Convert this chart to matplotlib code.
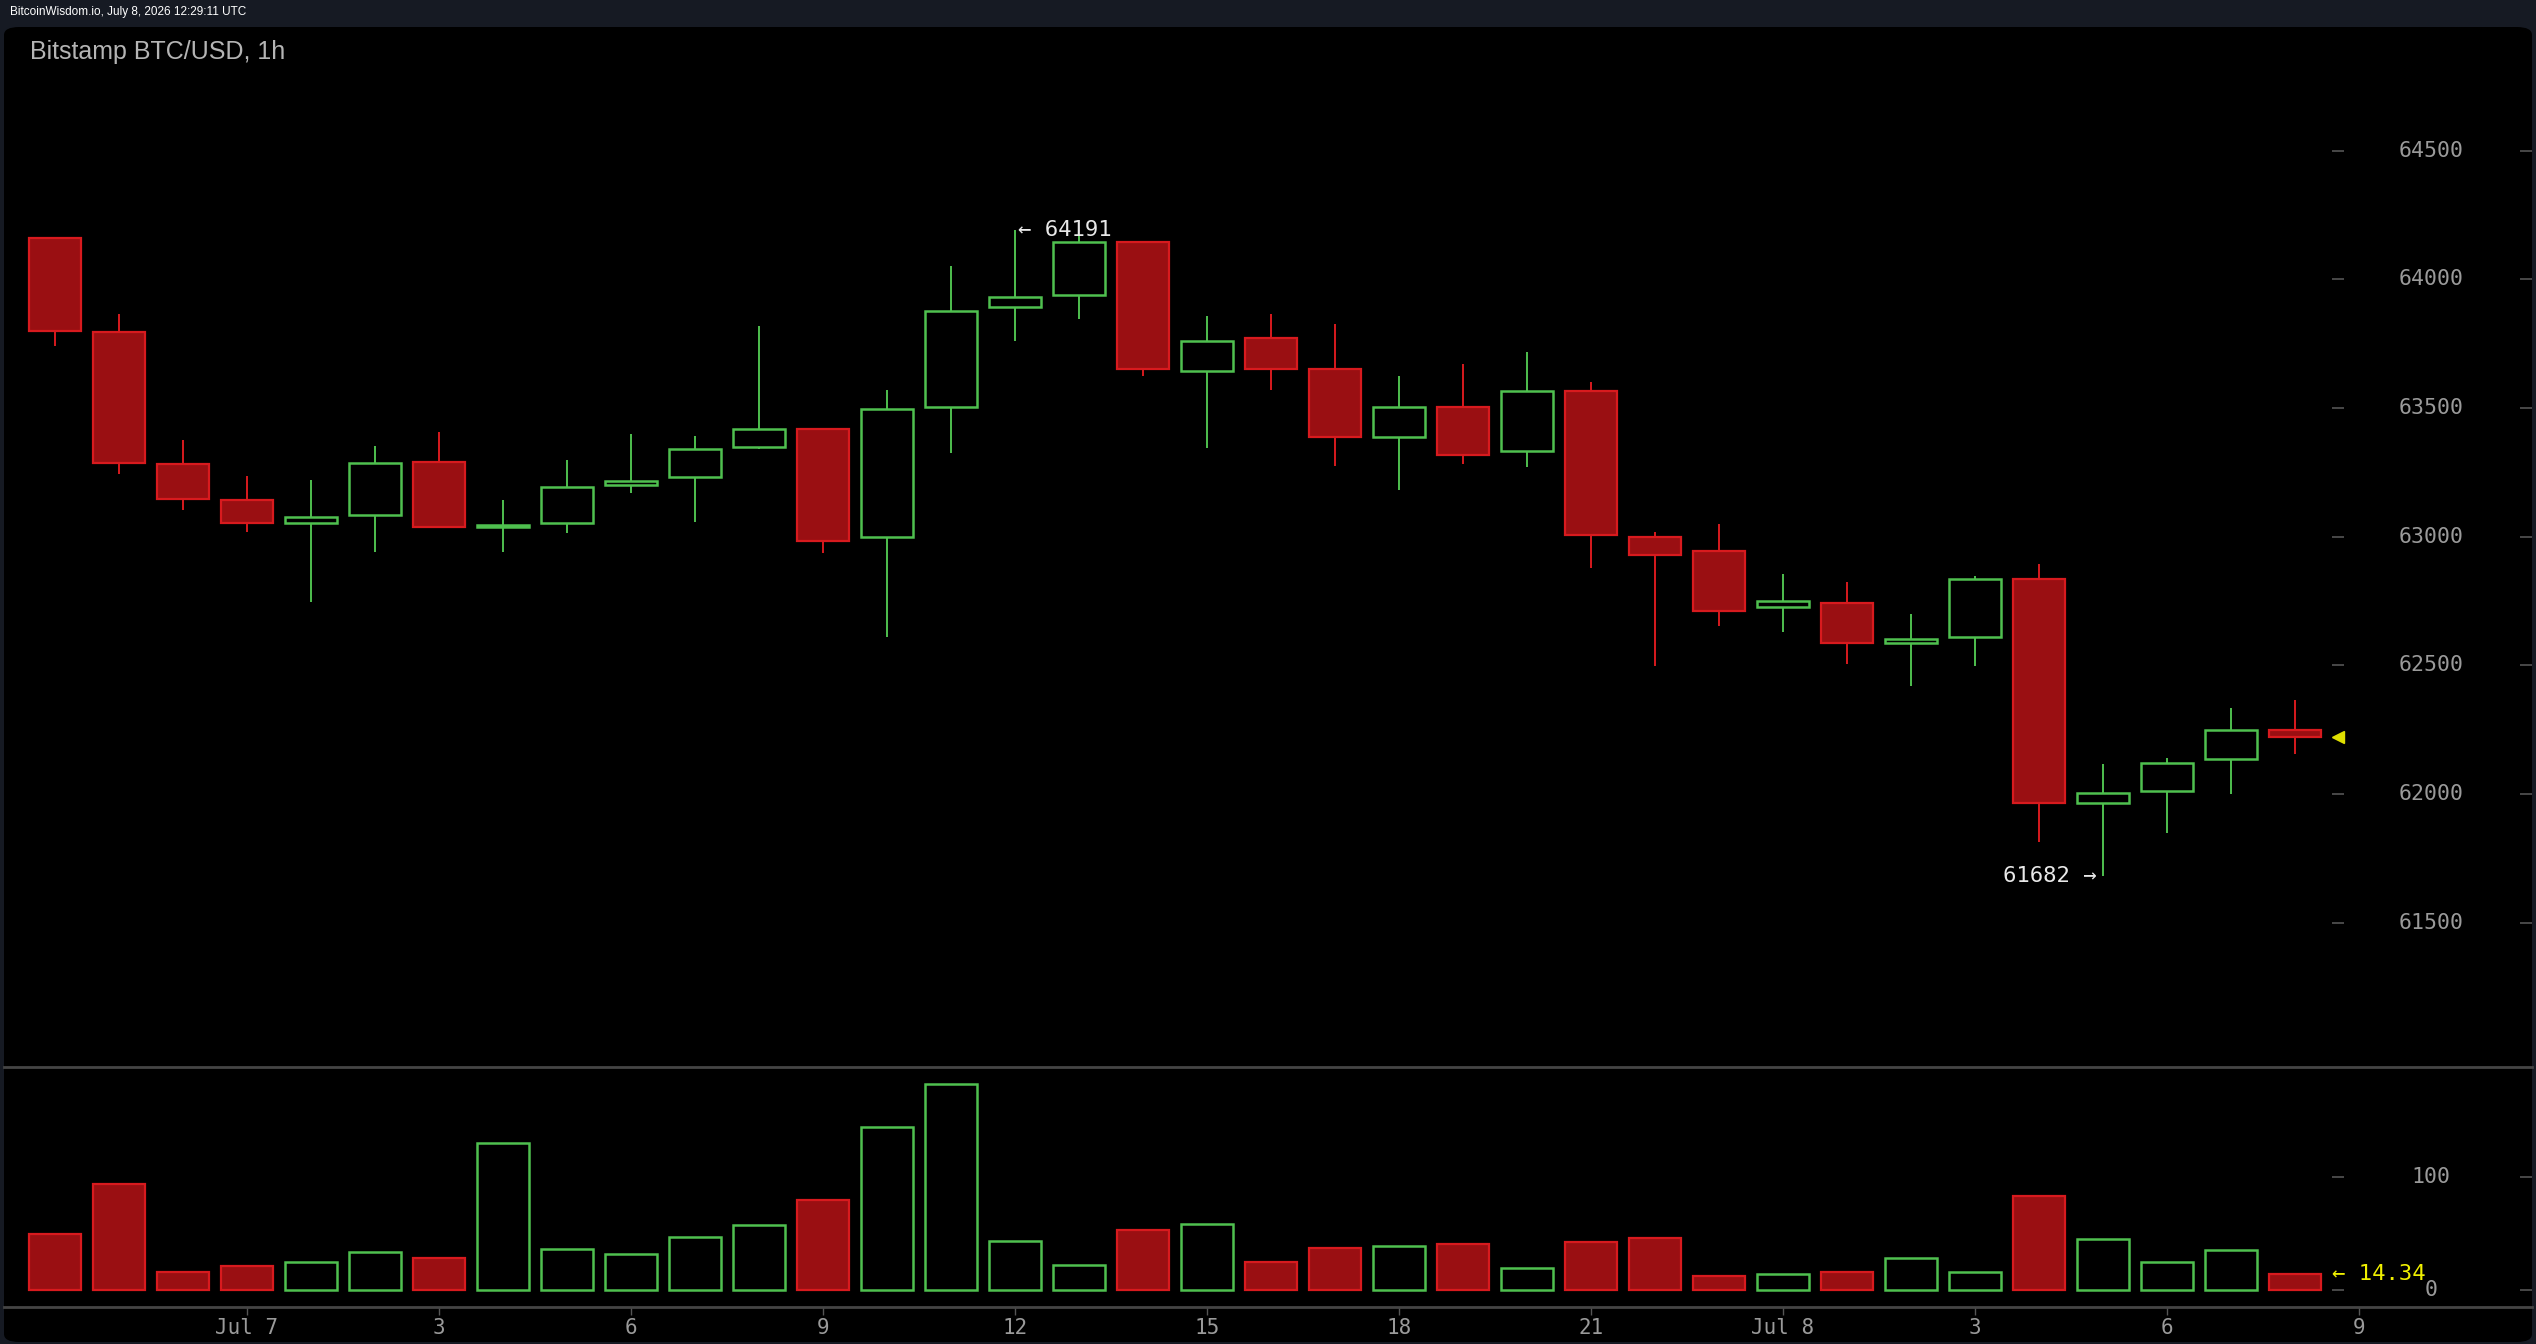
import matplotlib
matplotlib.use("Agg")
import matplotlib.pyplot as plt
from matplotlib.patches import FancyBboxPatch
from matplotlib.lines import Line2D

# ---------------------------------------------------------------------------
# Data (1h candles, Jul 6 21:00 -> Jul 8 08:00)
# ---------------------------------------------------------------------------
opens = [64159, 63794, 63281, 63141, 63053, 63084, 63289, 63038, 63054, 63200,
         63233, 63348, 63419, 62998, 63503, 63892, 63939, 64143, 63643, 63771,
         63653, 63387, 63505, 63332, 63567, 62999, 62945, 62725, 62743, 62585,
         62611, 62836, 61964, 62011, 62136, 62247]
highs = [64160, 63865, 63375, 63235, 63220, 63352, 63406, 63142, 63298, 63398,
         63391, 63818, 63419, 63569, 64051, 64191, 64172, 64143, 63857, 63864,
         63826, 63624, 63670, 63716, 63602, 63018, 63049, 62854, 62823, 62698,
         62846, 62893, 62115, 62138, 62333, 62365]
lows = [63742, 63243, 63103, 63019, 62747, 62941, 63036, 62941, 63012, 63168,
        63058, 63339, 62935, 62609, 63323, 63759, 63844, 63625, 63345, 63571,
        63275, 63181, 63283, 63269, 62879, 62498, 62654, 62630, 62506, 62420,
        62498, 61814, 61682, 61847, 62000, 62155]
closes = [63799, 63285, 63145, 63052, 63077, 63287, 63036, 63045, 63194, 63217,
          63341, 63419, 62983, 63497, 63878, 63932, 64143, 63650, 63761, 63651,
          63387, 63505, 63316, 63567, 63005, 62927, 62710, 62751, 62585, 62603,
          62836, 61964, 62005, 62121, 62247, 62221]
volumes = [49.1, 93.2, 15.9, 20.9, 24.4, 33.2, 28.0, 130.0, 36.5, 31.5,
           47.0, 57.6, 79.2, 144.1, 181.5, 43.5, 22.3, 52.7, 58.0, 24.4,
           37.1, 38.6, 40.6, 19.1, 42.1, 45.6, 12.1, 13.8, 15.9, 28.0,
           15.6, 83.0, 45.3, 24.4, 35.0, 14.34]

hour_ticks = [3, 6, 9, 12, 15, 18, 21, 24, 27, 30, 33, 36]
hour_labels = ["Jul 7", "3", "6", "9", "12", "15", "18", "21", "Jul 8", "3", "6", "9"]
price_ticks = [61500, 62000, 62500, 63000, 63500, 64000, 64500]
volume_ticks = [0, 100]

# ---------------------------------------------------------------------------
# Style
# ---------------------------------------------------------------------------
OUTER = "#161a23"
RED_FACE = "#9a0f12"
RED_EDGE = "#d81a1e"
GREEN = "#4fc04f"
AXIS_GREY = "#454545"
LABEL_GREY = "#9a9a9a"
MONO = "DejaVu Sans Mono"
SANS = "Liberation Sans"

W, H = 2536, 1344
fig = plt.figure(figsize=(W / 100, H / 100), dpi=100, facecolor=OUTER)

# black rounded panel
panel = FancyBboxPatch((4 / W, 2 / H), 2528 / W, 1315 / H,
                       boxstyle="round,pad=0,rounding_size=0.006",
                       transform=fig.transFigure, facecolor="black",
                       edgecolor="none", zorder=0)
fig.add_artist(panel)

fig.text(10 / W, 1 - 12 / H, "BitcoinWisdom.io, July 8, 2026 12:29:11 UTC",
         color="white", fontsize=8.5, family=SANS, va="center", ha="left")
fig.text(30 / W, 1 - 52 / H, "Bitstamp BTC/USD, 1h", color="#b4b4b4",
         fontsize=18, family=SANS, va="center", ha="left")

left, width = 4 / W, 2528 / W
ax = fig.add_axes([left, 1 - 1066.7 / H, width, (1066.7 - 25) / H])
axv = fig.add_axes([left, 1 - 1306.7 / H, width, 240 / H], sharex=ax)
for a in (ax, axv):
    a.set_facecolor("none")
    for s in a.spines.values():
        s.set_visible(False)
    a.set_yticks([])

x0 = -51 / 64
ax.set_xlim(x0, x0 + 2528 / 64)
ax.set_ylim(60940, 64988)
axv.set_ylim(-14.7, 197.1)

n = len(opens)
xs = list(range(n))
body_w = 0.82
up = [c >= o for o, c in zip(opens, closes)]

for i in xs:
    o, h, l, c = opens[i], highs[i], lows[i], closes[i]
    col = GREEN if up[i] else RED_EDGE
    ax.vlines(i, l, h, color=col, linewidth=1.4, zorder=2)
    lo, hi = min(o, c), max(o, c)
    if up[i]:
        ax.bar(i, hi - lo, bottom=lo, width=body_w, facecolor="black",
               edgecolor=GREEN, linewidth=1.8, zorder=3)
        axv.bar(i, volumes[i], width=body_w, facecolor="black",
                edgecolor=GREEN, linewidth=1.8, zorder=3)
    else:
        ax.bar(i, hi - lo, bottom=lo, width=body_w, facecolor=RED_FACE,
               edgecolor=RED_EDGE, linewidth=1.6, zorder=3)
        axv.bar(i, volumes[i], width=body_w, facecolor=RED_FACE,
                edgecolor=RED_EDGE, linewidth=1.6, zorder=3)

# right side price scale drawn inside the panel
lab_x = (2431 - 55) / 64
d0, d1 = (2332 - 55) / 64, (2344 - 55) / 64
e0, e1 = (2520 - 55) / 64, (2532 - 55) / 64
for p in price_ticks:
    ax.text(lab_x, p, str(p), color=LABEL_GREY, fontsize=15.5, family=MONO,
            ha="center", va="center")
    ax.hlines(p, d0, d1, color="#555555", linewidth=1.2)
    ax.hlines(p, e0, e1, color="#555555", linewidth=1.2)
for v in volume_ticks:
    axv.text(lab_x, v, str(v), color=LABEL_GREY, fontsize=15.5, family=MONO,
             ha="center", va="center")
    axv.hlines(v, d0, d1, color="#555555", linewidth=1.2)
    axv.hlines(v, e0, e1, color="#555555", linewidth=1.2)

# last price marker and last volume
ax.plot([(d0 + d1) / 2], [closes[-1]], marker="<", color="#e0e000",
        markersize=9, linestyle="none", zorder=4)
axv.text(d0, volumes[-1], "\u2190 " + f"{volumes[-1]:.2f}", color="#f0f000",
         fontsize=16, family=MONO, ha="left", va="center", zorder=4)

# high / low annotations
hi_i = highs.index(max(highs))
lo_i = lows.index(min(lows))
ax.text(hi_i + 0.05, highs[hi_i], "\u2190 " + str(highs[hi_i]), color="#e8e8e8",
        fontsize=16, family=MONO, ha="left", va="center")
ax.text(lo_i - 0.1, lows[lo_i], str(lows[lo_i]) + " \u2192", color="#e8e8e8",
        fontsize=16, family=MONO, ha="right", va="center")

# panel separators
fig.add_artist(Line2D([4 / W, 2532 / W], [1 - 1066.7 / H] * 2,
                      transform=fig.transFigure, color=AXIS_GREY, linewidth=2))
fig.add_artist(Line2D([4 / W, 2532 / W], [1 - 1306.7 / H] * 2,
                      transform=fig.transFigure, color=AXIS_GREY, linewidth=2))

ax.tick_params(axis="x", which="both", bottom=False, labelbottom=False)
axv.set_xticks(hour_ticks)
axv.set_xticklabels(hour_labels)
axv.tick_params(axis="x", direction="out", length=6, width=1, color="#555555",
                labelcolor=LABEL_GREY, labelsize=15, pad=2)
for t in axv.get_xticklabels():
    t.set_family(MONO)

fig.savefig("out.png", dpi=100, facecolor=OUTER)
